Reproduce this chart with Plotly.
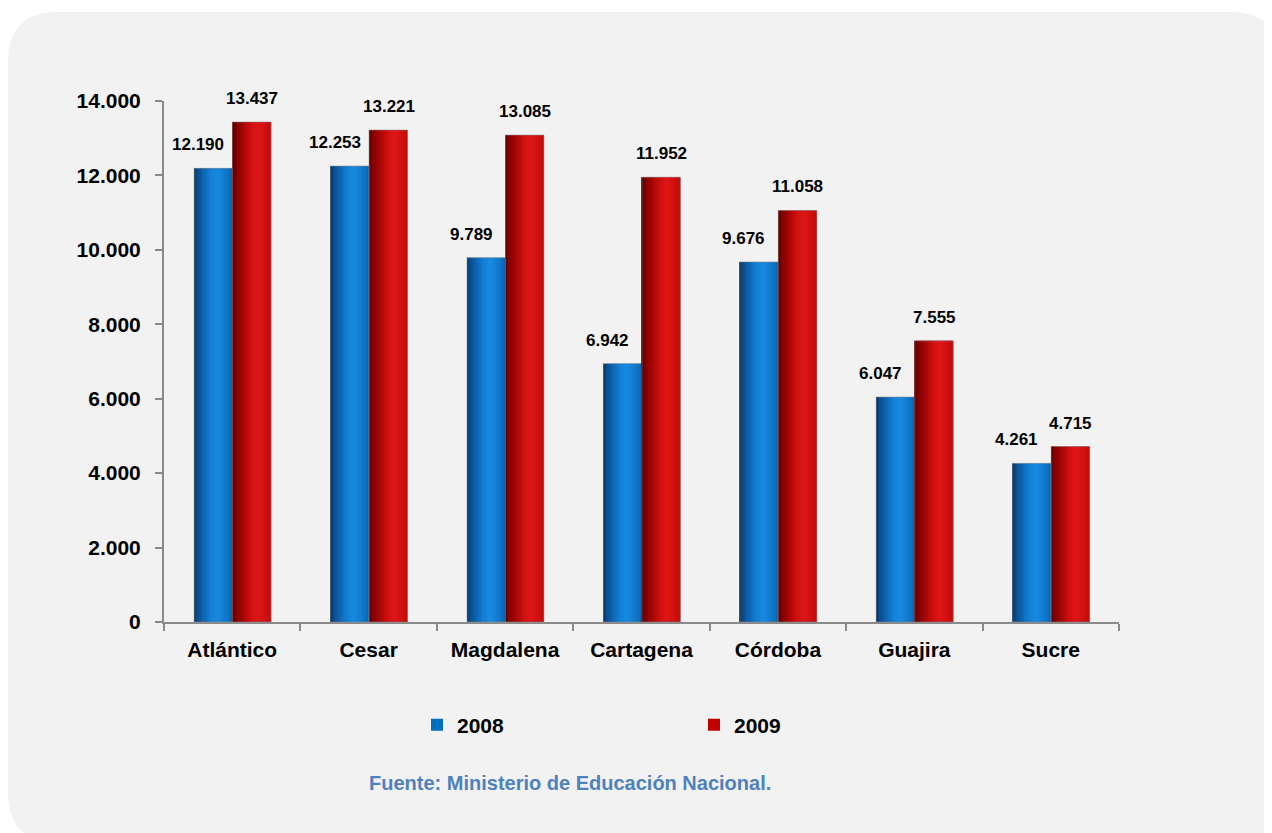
import plotly.graph_objects as go

# ---------------- data ----------------
categories = ["Atlántico", "Cesar", "Magdalena", "Cartagena", "Córdoba", "Guajira", "Sucre"]
values_2008 = [12190, 12253, 9789, 6942, 9676, 6047, 4261]
values_2009 = [13437, 13221, 13085, 11952, 11058, 7555, 4715]
series_names = ["2008", "2009"]
y_tick_values = [0, 2000, 4000, 6000, 8000, 10000, 12000, 14000]
source_text = "Fuente: Ministerio de Educación Nacional."

# ---------------- layout constants ----------------
OFF = 8                              # page body margin
W, H = 1272 - OFF, 833 - OFF
L, R, T, B = 164, 1119, 101, 622     # plot area in screen pixels
FONT = "Liberation Sans, Arial, sans-serif"


def px_x(p):
    return (p - L) / (R - L)


def px_y(p):
    return (B - p) / (B - T)


def hex2rgb(h):
    h = h.lstrip("#")
    return tuple(int(h[i:i + 2], 16) for i in (0, 2, 4))


def grad(stops, t):
    for (t0, c0), (t1, c1) in zip(stops[:-1], stops[1:]):
        if t0 <= t <= t1:
            f = (t - t0) / (t1 - t0) if t1 > t0 else 0
            a, b = hex2rgb(c0), hex2rgb(c1)
            return "rgb(%d,%d,%d)" % tuple(round(a[i] + (b[i] - a[i]) * f) for i in range(3))
    return stops[-1][1]


blue_stops = [(0.0, "#082a50"), (0.08, "#0a4a88"), (0.25, "#0c64b0"),
              (0.45, "#1380d6"), (0.62, "#168ae2"), (0.8, "#117ccf"),
              (0.95, "#0e6cbc"), (1.0, "#0c5ea8")]
red_stops = [(0.0, "#520000"), (0.1, "#7e0000"), (0.3, "#aa0606"),
             (0.5, "#d01010"), (0.66, "#de1616"), (0.82, "#d31111"),
             (1.0, "#c20b0b")]

bar_w = 0.282
offsets = [-0.279, 0.003]
N = 22

fig = go.Figure()

series = [(values_2008, blue_stops, "#0070C0"), (values_2009, red_stops, "#C00000")]
for (vals, stops, legend_col), name, off in zip(series, series_names, offsets):
    # base trace (legend entry)
    fig.add_trace(go.Bar(x=categories, y=vals, name=name, offset=off, width=bar_w,
                         marker=dict(color=legend_col, line=dict(width=0)),
                         hoverinfo="skip", showlegend=True))
    for k in range(N):
        t = (k + 0.5) / N
        fig.add_trace(go.Bar(x=categories, y=vals, offset=off + k * bar_w / N,
                             width=bar_w / N,
                             marker=dict(color=grad(stops, t), line=dict(width=0)),
                             hoverinfo="skip", showlegend=False))
    # thin outline
    fig.add_trace(go.Bar(x=categories, y=vals, offset=off, width=bar_w,
                         marker=dict(color="rgba(0,0,0,0)",
                                     line=dict(width=1, color="rgba(140,140,140,0.55)")),
                         hoverinfo="skip", showlegend=False))


def fmt(v):
    return f"{v:,}".replace(",", ".")


annotations = []
for cat, v in zip(categories, values_2008):
    annotations.append(dict(x=cat, y=v, text=fmt(v), showarrow=False, xref="x", yref="y",
                            xanchor="center", yanchor="bottom", xshift=-34, yshift=12,
                            font=dict(family=FONT, size=17, color="black", weight="bold")))
for cat, v in zip(categories, values_2009):
    annotations.append(dict(x=cat, y=v, text=fmt(v), showarrow=False, xref="x", yref="y",
                            xanchor="center", yanchor="bottom", xshift=20, yshift=12,
                            font=dict(family=FONT, size=17, color="black", weight="bold")))
annotations.append(dict(x=px_x(570), y=px_y(783), xref="paper", yref="paper", text=source_text,
                        showarrow=False, xanchor="center", yanchor="middle",
                        font=dict(family=FONT, size=20, color="#4F81BD", weight="bold")))

# rounded background panel
x0, x1 = px_x(8), px_x(1280)
y1, y0 = px_y(12), px_y(842)
rx, ry = 50 / (R - L), 50 / (B - T)
path = (f"M{x0 + rx},{y1} L{x1 - rx},{y1} Q{x1},{y1} {x1},{y1 - ry} "
        f"L{x1},{y0 + ry} Q{x1},{y0} {x1 - rx},{y0} L{x0 + rx},{y0} "
        f"Q{x0},{y0} {x0},{y0 + ry} L{x0},{y1 - ry} Q{x0},{y1} {x0 + rx},{y1} Z")

axis_col = "#8a8a8a"
fig.update_layout(
    width=W, height=H, autosize=False,
    margin=dict(l=L - OFF, r=W - (R - OFF), t=T - OFF, b=H - (B - OFF), pad=0),
    paper_bgcolor="white", plot_bgcolor="rgba(0,0,0,0)",
    barmode="overlay", separators=",.",
    font=dict(family=FONT, color="black"),
    shapes=[dict(type="path", path=path, xref="paper", yref="paper",
                 fillcolor="#F2F2F2", line=dict(width=0), layer="below")],
    annotations=annotations,
    xaxis=dict(type="category", showline=True, linecolor=axis_col, linewidth=2,
               ticks="outside", tickson="boundaries", ticklen=7, tickwidth=2,
               tickcolor=axis_col, showgrid=False, zeroline=False, tickangle=0,
               tickfont=dict(family=FONT, size=21, color="black", weight="bold"),
               ticklabelstandoff=8, range=[-0.5, 6.5]),
    yaxis=dict(range=[0, 14000], tickvals=y_tick_values, tickformat=",d",
               showline=True, linecolor=axis_col, linewidth=2, ticks="outside",
               ticklen=7, tickwidth=2, tickcolor=axis_col, showgrid=False,
               zeroline=False, ticklabelstandoff=10,
               tickfont=dict(family=FONT, size=21, color="black", weight="bold")),
    legend=dict(orientation="h", x=px_x(417), xanchor="left", y=px_y(725), yanchor="middle",
                entrywidth=232, entrywidthmode="pixels", bgcolor="rgba(0,0,0,0)",
                font=dict(family=FONT, size=21, color="black", weight="bold"),
                itemclick=False, itemdoubleclick=False),
    showlegend=True,
)

fig.write_html("out.html")
